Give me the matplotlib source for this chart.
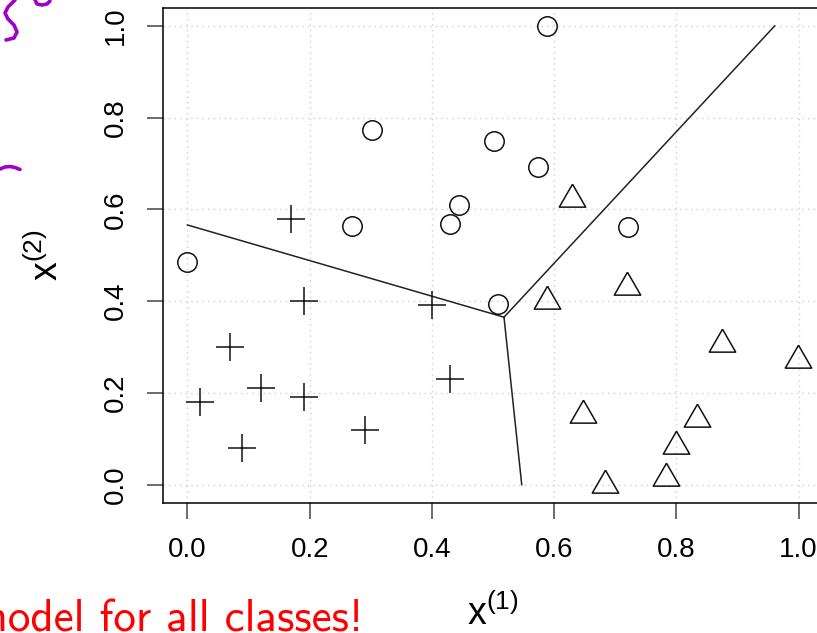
"""Three-class scatter with the piecewise linear decision boundary."""

import matplotlib

matplotlib.use("Agg")
import matplotlib.pyplot as plt
from matplotlib.lines import Line2D

plt.rcParams["font.family"] = ["Liberation Sans", "DejaVu Sans"]

# class "circle"
circle_x = [0.589, 0.302, 0.502, 0.574, 0.445, 0.429, 0.270, 0.721, 0.000, 0.508]
circle_y = [1.000, 0.772, 0.748, 0.692, 0.609, 0.569, 0.564, 0.561, 0.486, 0.393]

# class "triangle"
tri_x = [0.629, 0.719, 0.589, 0.874, 0.999, 0.647, 0.834, 0.799, 0.783, 0.684]
tri_y = [0.623, 0.431, 0.400, 0.307, 0.272, 0.152, 0.142, 0.085, 0.015, 0.000]

# class "plus"
plus_x = [0.169, 0.190, 0.400, 0.070, 0.430, 0.120, 0.190, 0.020, 0.291, 0.090]
plus_y = [0.580, 0.400, 0.391, 0.300, 0.231, 0.210, 0.191, 0.180, 0.120, 0.080]

# decision boundary: three rays leaving one junction
junction = (0.518, 0.365)
boundary_ends = [(0.000, 0.566), (0.961, 1.000), (0.547, 0.000)]

ticks = [0.0, 0.2, 0.4, 0.6, 0.8, 1.0]
tick_labels = ["0.0", "0.2", "0.4", "0.6", "0.8", "1.0"]

# R style triangle (pch = 2), centred on its centroid
TRIANGLE = [(0.0, 1.0), (-0.866, -0.5), (0.866, -0.5), (0.0, 1.0)]

W, H = 817, 633
fig = plt.figure(figsize=(W / 100, H / 100), dpi=100)
ax = fig.add_axes([163 / W, 130 / H, 660 / W, 495.5 / H])

ax.set_xlim(-0.04, 1.04)
ax.set_ylim(-0.04, 1.04)
ax.set_xticks(ticks, tick_labels)
ax.set_yticks(ticks, tick_labels)
ax.grid(True, color="#cfcfcf", linestyle=(0, (1, 3)), linewidth=1.0)
ax.set_axisbelow(True)

for end in boundary_ends:
    ax.plot([junction[0], end[0]], [junction[1], end[1]], color="#222222", lw=1.1)

ax.plot(circle_x, circle_y, "o", ms=14, mfc="none", mec="#111111", mew=1.1)
ax.plot(tri_x, tri_y, marker=TRIANGLE, ls="none", ms=22, mfc="none", mec="#111111", mew=1.1)
ax.plot(plus_x, plus_y, "+", ms=20, mec="#111111", mew=1.1)

ax.tick_params(length=11.5, width=1.1, color="#444444", labelsize=20, pad=13)
ax.tick_params(axis="y", labelrotation=90)
for lab in ax.get_yticklabels():
    lab.set_va("center")
for spine in ax.spines.values():
    spine.set_linewidth(1.1)

ax.set_xlabel(r"$\mathregular{x^{(1)}}$", fontsize=27, va="baseline")
ax.xaxis.set_label_coords(0.5, (503 - 625) / 495.5)
ax.set_ylabel(r"$\mathregular{x^{(2)}}$", fontsize=27, va="baseline")
ax.yaxis.set_label_coords((58 - 163) / 660, 0.5)

# slide annotations around the plot
fig.text(363 / W, 1.5 / H, "model for all classes!", color="red", fontsize=32.5,
         family=["cmss10", "DejaVu Sans"], ha="right", va="baseline")

pen = "#a000c8"
strokes = [
    [(15, 0), (8, 7), (5, 13), (8, 19), (14, 25), (17, 32), (14, 38), (6, 40)],
    [(35, 0), (37, 4), (42, 5), (47, 4), (50, 1)],
    [(0, 169), (5, 167), (10, 166.5), (15, 167.5), (20, 169.5)],
]
for pts in strokes:
    fig.add_artist(Line2D([p[0] / W for p in pts], [1 - p[1] / H for p in pts],
                          transform=fig.transFigure, color=pen, lw=2.6,
                          solid_capstyle="round", solid_joinstyle="round"))

fig.savefig("out.png", dpi=100)
